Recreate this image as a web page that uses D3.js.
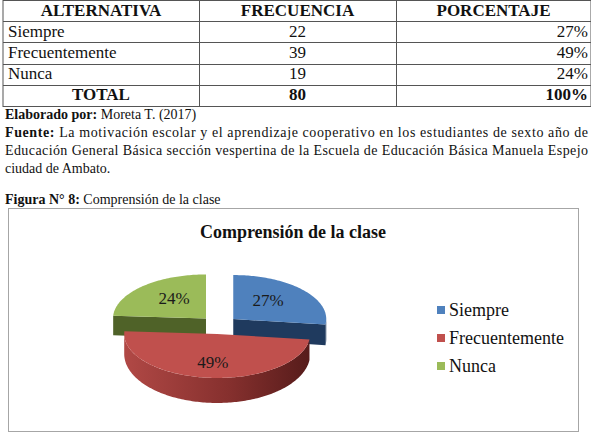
<!DOCTYPE html>
<meta charset="utf-8">
<style>
body { margin: 0; background: #fff; }
</style>
<svg width="591" height="434" font-family="Liberation Serif"></svg>
<script src="https://cdn.jsdelivr.net/npm/d3@7"></script>
<script>
var width = 591,
    height = 434;

// data
var categories = ["Siempre", "Frecuentemente", "Nunca"];
var frequencies = [22, 39, 19];
var percents = [27, 49, 24];
var totalFreq = 80;
var totalPct = 100;
var headers = ["ALTERNATIVA", "FRECUENCIA", "PORCENTAJE"];

var topColors = ["#4f81bd", "#c0504d", "#9bbb59"];
var wallColors = ["#1f3a5e", "#7a2e2c", "#4f6228"];

var svg = d3.select("svg");

// ---------- table ----------
var colX = [3, 199, 396, 591];
var rowY = d3.scaleBand().domain(d3.range(5)).range([0, 106]);
var lineColor = "#555";

var tbl = svg.append("g");
tbl.append("rect")
    .attr("x", colX[0]).attr("y", 0.5)
    .attr("width", colX[3] - colX[0]).attr("height", 106)
    .attr("fill", "none").attr("stroke", lineColor);
d3.range(1, 5).forEach(function(i) {
  tbl.append("line")
      .attr("x1", colX[0]).attr("x2", colX[3])
      .attr("y1", Math.round(rowY(i)) + 0.5).attr("y2", Math.round(rowY(i)) + 0.5)
      .attr("stroke", lineColor);
});
[1, 2].forEach(function(i) {
  tbl.append("line")
      .attr("x1", colX[i] + 0.5).attr("x2", colX[i] + 0.5)
      .attr("y1", 0).attr("y2", 106)
      .attr("stroke", lineColor);
});

function cell(row, col, txt, bold, align) {
  var x = align === "start" ? colX[col] + 5
        : align === "end" ? colX[col + 1] - 3
        : (colX[col] + colX[col + 1]) / 2;
  tbl.append("text")
      .attr("x", x)
      .attr("y", rowY(row) + rowY.bandwidth() / 2 + 5)
      .attr("text-anchor", align)
      .attr("font-size", 17)
      .attr("font-weight", bold ? "bold" : "normal")
      .attr("fill", "#111")
      .text(txt);
}
headers.forEach(function(h, i) { cell(0, i, h, true, "middle"); });
categories.forEach(function(c, i) {
  cell(i + 1, 0, c, false, "start");
  cell(i + 1, 1, frequencies[i], false, "middle");
  cell(i + 1, 2, percents[i] + "%", false, "end");
});
cell(4, 0, "TOTAL", true, "middle");
cell(4, 1, totalFreq, true, "middle");
cell(4, 2, totalPct + "%", true, "end");

// ---------- notes ----------
var notes = svg.append("g").attr("font-size", 14).attr("fill", "#111");
var el = notes.append("text").attr("x", 5).attr("y", 119);
el.append("tspan").attr("font-weight", "bold").text("Elaborado  por:");
el.append("tspan").text("  Moreta T. (2017)");

var f1 = notes.append("text").attr("x", 5).attr("y", 137)
    .attr("textLength", 583).attr("lengthAdjust", "spacing");
f1.append("tspan").attr("font-weight", "bold").text("Fuente:");
f1.append("tspan").text(" La motivación escolar y el aprendizaje cooperativo en los estudiantes de sexto año de");
notes.append("text").attr("x", 5).attr("y", 155)
    .attr("textLength", 583).attr("lengthAdjust", "spacing")
    .text("Educación General Básica sección vespertina de la Escuela de Educación Básica Manuela Espejo");
notes.append("text").attr("x", 5).attr("y", 173).text("ciudad de Ambato.");

var fig = notes.append("text").attr("x", 5).attr("y", 204);
fig.append("tspan").attr("font-weight", "bold").text("Figura N° 8:");
fig.append("tspan").text(" Comprensión de la clase");

// ---------- chart box ----------
svg.append("rect")
    .attr("x", 8.5).attr("y", 208.5)
    .attr("width", 570).attr("height", 223)
    .attr("fill", "#fff").attr("stroke", "#a6a6a6");

svg.append("text")
    .attr("x", 293).attr("y", 238)
    .attr("text-anchor", "middle")
    .attr("font-size", 18).attr("font-weight", "bold")
    .attr("fill", "#111")
    .text("Comprensión  de la clase");

// ---------- 3D pie ----------
var cx = 219, cy = 325, rx = 93, ry = 44, explode = 19;
var ratio = ry / rx;

function depth(t) { return 20 - 5 * Math.cos(t); }

var pie = d3.pie().sort(null).value(function(d) { return d; });
var arcs = pie(percents);

var defs = svg.append("defs");
var grad = defs.append("linearGradient").attr("id", "redSide")
    .attr("gradientUnits", "userSpaceOnUse")
    .attr("x1", cx - rx).attr("x2", cx + rx).attr("y1", 0).attr("y2", 0);
grad.append("stop").attr("offset", "0%").attr("stop-color", "#b04845");
grad.append("stop").attr("offset", "55%").attr("stop-color", "#86302e");
grad.append("stop").attr("offset", "100%").attr("stop-color", "#551b1a");

var slices = arcs.map(function(a, i) {
  var mid = (a.startAngle + a.endAngle) / 2;
  return {
    i: i,
    a0: a.startAngle,
    a1: a.endAngle,
    mid: mid,
    ox: cx + Math.sin(mid) * explode,
    oy: cy - Math.cos(mid) * explode * ratio
  };
});

function pt(s, t, d) {
  return [s.ox + rx * Math.sin(t), s.oy - ry * Math.cos(t) + (d ? depth(t) : 0)];
}
function samples(a, b) {
  var n = Math.max(2, Math.ceil((b - a) / 0.02));
  return d3.range(n + 1).map(function(k) { return a + (b - a) * k / n; });
}

// back slices first, the front one last
var order = slices.slice().sort(function(a, b) {
  return -Math.cos(a.mid) - -Math.cos(b.mid);
});

var pieG = svg.append("g");
var line = d3.line();

order.forEach(function(s) {
  var g = pieG.append("g");
  var dc = depth(Math.PI / 2);
  // radial walls facing the viewer
  [[s.a0, s.a0 - Math.PI / 2], [s.a1, s.a1 + Math.PI / 2]].forEach(function(w) {
    if (Math.cos(w[1]) < -0.01) {
      var p = pt(s, w[0], false), q = pt(s, w[0], true);
      g.append("path")
          .attr("d", line([[s.ox, s.oy], p, q, [s.ox, s.oy + dc]]) + "Z")
          .attr("fill", wallColors[s.i]);
    }
  });
  // outer curved side (front half only)
  var lo = Math.max(s.a0, Math.PI / 2), hi = Math.min(s.a1, 3 * Math.PI / 2);
  if (hi > lo) {
    var ts = samples(lo, hi);
    var pts = ts.map(function(t) { return pt(s, t, false); })
        .concat(ts.slice().reverse().map(function(t) { return pt(s, t, true); }));
    g.append("path")
        .attr("d", line(pts) + "Z")
        .attr("fill", s.i === 1 ? "url(#redSide)" : wallColors[s.i]);
  }
  // top face
  var top = [[s.ox, s.oy]].concat(samples(s.a0, s.a1).map(function(t) { return pt(s, t, false); }));
  g.append("path")
      .attr("d", line(top) + "Z")
      .attr("fill", topColors[s.i]);
});

// data labels
slices.forEach(function(s) {
  var p = [s.ox + rx * 0.5 * Math.sin(s.mid), s.oy - ry * 0.65 * Math.cos(s.mid)];
  pieG.append("text")
      .attr("x", p[0]).attr("y", p[1])
      .attr("dy", "0.35em")
      .attr("text-anchor", "middle")
      .attr("font-size", 17)
      .attr("fill", "#1a1a1a")
      .text(percents[s.i] + "%");
});

// ---------- legend ----------
var legY = d3.scalePoint().domain(categories).range([310, 366]);
var leg = svg.append("g");
categories.forEach(function(c, i) {
  leg.append("rect")
      .attr("x", 437).attr("y", legY(c) - 4)
      .attr("width", 8).attr("height", 8)
      .attr("fill", topColors[i]);
  leg.append("text")
      .attr("x", 449).attr("y", legY(c))
      .attr("dy", "0.35em")
      .attr("font-size", 18)
      .attr("fill", "#111")
      .text(c);
});

svg.selectAll("text").attr("font-family", "Liberation Serif");
</script>
